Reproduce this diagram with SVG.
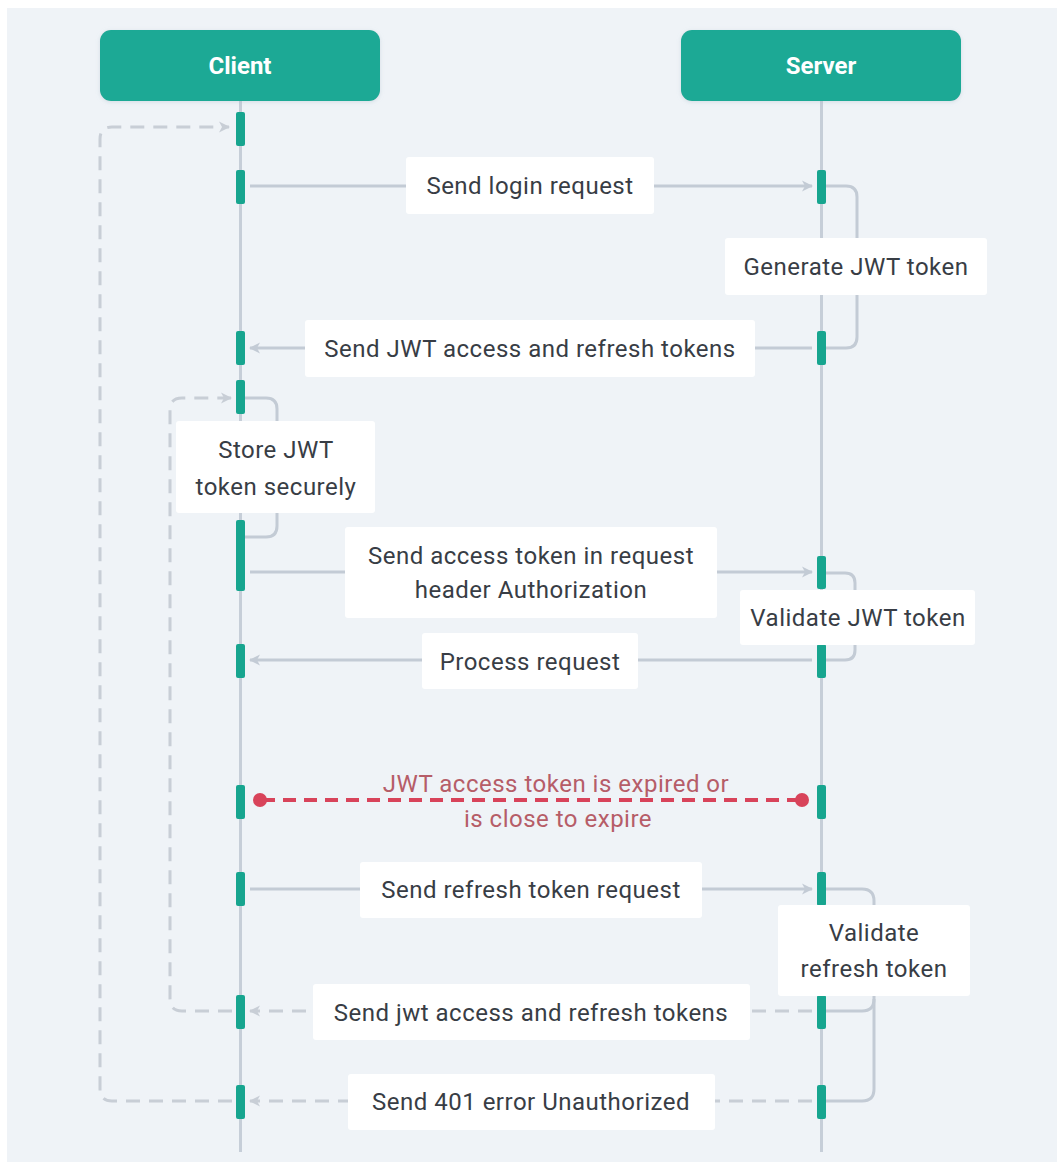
<svg xmlns="http://www.w3.org/2000/svg" width="1057" height="1162" viewBox="0 0 1057 1162">
  <defs>
    <style>
      .bg{fill:#eff3f7}
      .head{fill:#1aa995}
      .headtxt{font-family:Roboto,"Liberation Sans",sans-serif;font-weight:bold;font-size:24px;fill:#ffffff;text-anchor:middle}
      .life{stroke:#c6ced8;stroke-width:3;fill:none}
      .bar{fill:#17a58f}
      .msg{stroke:#c3cbd5;stroke-width:3;fill:none}
      .dash{stroke:#c8ced6;stroke-width:3;fill:none;stroke-dasharray:14 9}
      .lbl{fill:#ffffff}
      .txt{font-family:Roboto,"Liberation Sans",sans-serif;font-size:24px;letter-spacing:0.5px;fill:#383d45;text-anchor:middle}
      .red{stroke:#d8435a;stroke-width:4;fill:none;stroke-dasharray:13 8}
      .redtxt{font-family:Roboto,"Liberation Sans",sans-serif;font-size:24px;letter-spacing:0.5px;fill:#b65d68;text-anchor:middle}
    </style>
    <marker id="arr" viewBox="0 0 14 14" refX="12" refY="7" markerWidth="14" markerHeight="14" markerUnits="userSpaceOnUse" orient="auto">
      <path d="M2,1.5 L13,7 L2,12.5 L5,7 z" fill="#c3cbd5"/>
    </marker>
    <marker id="arrd" viewBox="0 0 14 14" refX="12" refY="7" markerWidth="14" markerHeight="14" markerUnits="userSpaceOnUse" orient="auto">
      <path d="M2,1.5 L13,7 L2,12.5 L5,7 z" fill="#c8ced6"/>
    </marker>
    <filter id="sh" x="-10%" y="-20%" width="120%" height="150%">
      <feDropShadow dx="0" dy="1" stdDeviation="2" flood-color="#9fb3c4" flood-opacity="0.35"/>
    </filter>
  </defs>

  <rect x="0" y="0" width="1057" height="1162" fill="#ffffff"/>
  <rect class="bg" x="7" y="8" width="1050" height="1154"/>

  <g id="lifelines">
    <line class="life" x1="240.5" y1="100" x2="240.5" y2="1152"/>
    <line class="life" x1="821.5" y1="100" x2="821.5" y2="1152"/>
  </g>

  <g id="client">
    <rect class="head" x="100" y="30" width="280" height="71" rx="11" filter="url(#sh)"/>
    <text class="headtxt" x="240" y="74">Client</text>
  </g>
  <g id="server">
    <rect class="head" x="681" y="30" width="280" height="71" rx="11" filter="url(#sh)"/>
    <text class="headtxt" x="821" y="74">Server</text>
  </g>

  <g id="connectors">
    <path class="dash" d="M232,1101 H112 Q100,1101 100,1089 V139 Q100,127 112,127 H229" marker-end="url(#arrd)"/>
    <path class="dash" d="M232,1011 H182 Q170,1011 170,999 V410 Q170,398 182,398 H231" marker-end="url(#arrd)"/>
    <path class="msg" d="M250,186 H812" marker-end="url(#arr)"/>
    <path class="msg" d="M826,186 H846 Q857,186 857,197 V337 Q857,348 846,348 H826"/>
    <path class="msg" d="M812,348 H250" marker-end="url(#arr)"/>
    <path class="msg" d="M245,398 H266 Q277,398 277,409 V526 Q277,537 266,537 H245"/>
    <path class="msg" d="M250,572 H812" marker-end="url(#arr)"/>
    <path class="msg" d="M826,573 H845 Q855,573 855,583 V650 Q855,660 845,660 H826"/>
    <path class="msg" d="M812,660 H250" marker-end="url(#arr)"/>
    <path class="red" d="M262,800 H800"/>
    <circle cx="260" cy="800" r="7" fill="#d8435a"/>
    <circle cx="802" cy="800" r="7" fill="#d8435a"/>
    <path class="msg" d="M250,889 H812" marker-end="url(#arr)"/>
    <path class="msg" d="M826,889 H862 Q874,889 874,901 V1089 Q874,1101 862,1101 H826"/>
    <path class="msg" d="M874,999 Q874,1011 862,1011 H826"/>
    <path class="dash" d="M812,1011 H250" marker-end="url(#arrd)"/>
    <path class="dash" d="M812,1101 H250" marker-end="url(#arrd)"/>
  </g>

  <g id="activations">
    <rect class="bar" x="236" y="112" width="9" height="34" rx="2"/>
    <rect class="bar" x="236" y="170" width="9" height="34" rx="2"/>
    <rect class="bar" x="236" y="331" width="9" height="34" rx="2"/>
    <rect class="bar" x="236" y="380" width="9" height="34" rx="2"/>
    <rect class="bar" x="236" y="520" width="9" height="71" rx="2"/>
    <rect class="bar" x="236" y="644" width="9" height="34" rx="2"/>
    <rect class="bar" x="236" y="785" width="9" height="34" rx="2"/>
    <rect class="bar" x="236" y="872" width="9" height="34" rx="2"/>
    <rect class="bar" x="236" y="995" width="9" height="34" rx="2"/>
    <rect class="bar" x="236" y="1085" width="9" height="34" rx="2"/>
    <rect class="bar" x="817" y="170" width="9" height="34" rx="2"/>
    <rect class="bar" x="817" y="331" width="9" height="34" rx="2"/>
    <rect class="bar" x="817" y="556" width="9" height="33" rx="2"/>
    <rect class="bar" x="817" y="644" width="9" height="34" rx="2"/>
    <rect class="bar" x="817" y="785" width="9" height="34" rx="2"/>
    <rect class="bar" x="817" y="872" width="9" height="34" rx="2"/>
    <rect class="bar" x="817" y="995" width="9" height="34" rx="2"/>
    <rect class="bar" x="817" y="1085" width="9" height="34" rx="2"/>
  </g>

  <g id="label-login">
    <rect class="lbl" x="406" y="157" width="248" height="57" rx="3"/>
    <text class="txt" x="530" y="194">Send login request</text>
  </g>
  <g id="label-generate">
    <rect class="lbl" x="725" y="238" width="262" height="57" rx="3"/>
    <text class="txt" x="856" y="275">Generate JWT token</text>
  </g>
  <g id="label-send-tokens">
    <rect class="lbl" x="305" y="320" width="450" height="57" rx="3"/>
    <text class="txt" x="530" y="357">Send JWT access and refresh tokens</text>
  </g>
  <g id="label-store">
    <rect class="lbl" x="176" y="421" width="199" height="92" rx="3"/>
    <text class="txt" x="276" y="458">Store JWT</text>
    <text class="txt" x="276" y="495">token securely</text>
  </g>
  <g id="label-access">
    <rect class="lbl" x="345" y="527" width="372" height="91" rx="3"/>
    <text class="txt" x="531" y="564">Send access token in request</text>
    <text class="txt" x="531" y="598">header Authorization</text>
  </g>
  <g id="label-validate-jwt">
    <rect class="lbl" x="740" y="590" width="235" height="55" rx="3"/>
    <text class="txt" x="858" y="626">Validate JWT token</text>
  </g>
  <g id="label-process">
    <rect class="lbl" x="422" y="633" width="216" height="56" rx="3"/>
    <text class="txt" x="530" y="670">Process request</text>
  </g>
  <g id="label-expired">
    <text class="redtxt" x="556" y="792">JWT access token is expired or</text>
    <text class="redtxt" x="558" y="827">is close to expire</text>
  </g>
  <g id="label-refresh-req">
    <rect class="lbl" x="360" y="862" width="342" height="56" rx="3"/>
    <text class="txt" x="531" y="898">Send refresh token request</text>
  </g>
  <g id="label-validate-refresh">
    <rect class="lbl" x="778" y="905" width="192" height="91" rx="3"/>
    <text class="txt" x="874" y="941">Validate</text>
    <text class="txt" x="874" y="977">refresh token</text>
  </g>
  <g id="label-send-jwt">
    <rect class="lbl" x="313" y="984" width="437" height="56" rx="3"/>
    <text class="txt" x="531" y="1021">Send jwt access and refresh tokens</text>
  </g>
  <g id="label-401">
    <rect class="lbl" x="348" y="1074" width="367" height="56" rx="3"/>
    <text class="txt" x="531" y="1110">Send 401 error Unauthorized</text>
  </g>
</svg>
